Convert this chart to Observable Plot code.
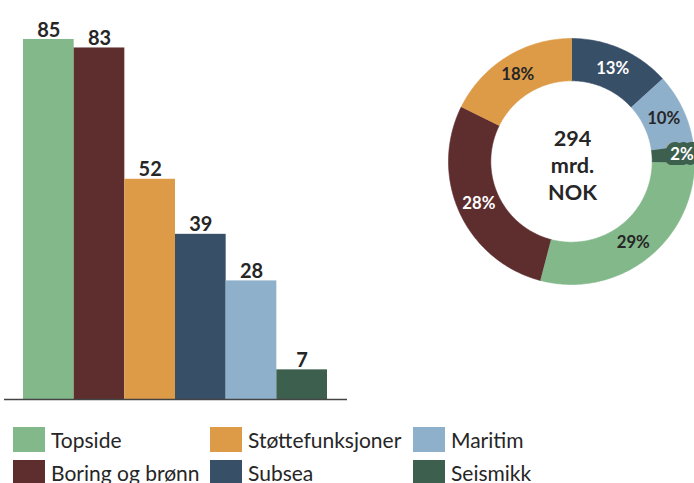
<!DOCTYPE html>
<html><head><meta charset="utf-8">
<script src="https://cdn.jsdelivr.net/npm/d3@7"></script>
<script src="https://cdn.jsdelivr.net/npm/@observablehq/plot@0.6"></script>
<style>
html,body{margin:0;padding:0;background:#fff;}
#chart{position:relative;width:694px;height:483px;overflow:hidden;font-family:Lato,sans-serif;}
#bars{position:absolute;left:0;top:0;}
#donut{position:absolute;left:448px;top:38px;}
#legend{position:absolute;left:13px;top:427px;display:grid;grid-template-columns:197px 203px auto;grid-auto-flow:column;grid-template-rows:25px 25px;row-gap:7.5px;}
.item{display:flex;align-items:center;font-size:21px;color:#262626;white-space:nowrap;}
.sw{width:32px;height:25px;margin-right:6px;flex:none;}
</style></head><body>
<div id="chart"><div id="bars"></div><div id="donut"></div><div id="legend"></div></div>
<script>
const categories = ["Topside","Boring og brønn","Støttefunksjoner","Subsea","Maritim","Seismikk"];
const values = [85,83,52,39,28,7];
const colors = ["#82b88a","#5e2d2e","#dd9b48","#384f68","#8fb0cb","#3d604e"];
const donutOrder = ["Subsea","Maritim","Seismikk","Topside","Boring og brønn","Støttefunksjoner"];
const unitLabel = ["mrd.","NOK"];

const bars = categories.map((c,i)=>({category:c,value:values[i]}));
const colorOf = c => colors[categories.indexOf(c)];

const barPlot = Plot.plot({
  width:694, height:420,
  marginLeft:4, marginRight:347, marginTop:39, marginBottom:21,
  style:{fontFamily:"Lato, sans-serif", background:"transparent"},
  x:{domain:categories, range:[23,327], padding:0, round:false, axis:null},
  y:{domain:[0,85], axis:null},
  color:{domain:categories, range:colors},
  marks:[
    Plot.barY(bars,{x:"category",y:"value",fill:"category"}),
    Plot.ruleY([0],{stroke:"#444",strokeWidth:1.5}),
    Plot.text(bars,{x:"category",y:"value",text:d=>String(d.value),lineAnchor:"bottom",dy:-3,fontSize:20,fontWeight:700,fill:"#262626"})
  ]
});
document.getElementById("bars").append(barPlot);

// Donut
const total = d3.sum(values);
const R = 1, r0 = 0.656;
let acc = 0;
const slices = donutOrder.map(c => {
  const v = values[categories.indexOf(c)];
  const a0 = acc/total*2*Math.PI; acc += v; const a1 = acc/total*2*Math.PI;
  return {category:c, value:v, a0, a1, pct: Math.round(v/total*100)+"%"};
});
const ringPts = slices.flatMap(s => {
  const n = Math.max(2, Math.ceil((s.a1-s.a0)/(Math.PI/180)));
  const angles = d3.range(n+1).map(k => s.a0 + (s.a1-s.a0)*k/n);
  const outer = angles.map(a=>({category:s.category,x:R*Math.sin(a),y:R*Math.cos(a)}));
  const inner = angles.slice().reverse().map(a=>({category:s.category,x:r0*Math.sin(a),y:r0*Math.cos(a)}));
  return [...outer, ...inner];
});
const labels = slices.map(s => {
  const m = (s.a0+s.a1)/2;
  const small = s.value/total < 0.05;
  const rr = small ? 0.9 : (R+r0)/2;
  const dark = d3.hsl(colorOf(s.category)).l < 0.4;
  return {category:s.category, x:rr*Math.sin(m), y:rr*Math.cos(m), text:s.pct, small, fill: dark ? "#ffffff" : "#262626"};
});

const donutPlot = Plot.plot({
  width:250, height:250, margin:0,
  style:{fontFamily:"Lato, sans-serif", background:"transparent", overflow:"visible"},
  x:{domain:[-1,1], axis:null},
  y:{domain:[-1,1], axis:null},
  color:{domain:categories, range:colors},
  marks:[
    Plot.line(ringPts,{x:"x",y:"y",z:"category",fill:"category",stroke:"category",strokeWidth:0.6,curve:"linear"}),
    Plot.text(labels.filter(d=>d.small),{x:"x",y:"y",text:"text",stroke:"category",strokeWidth:10,strokeLinejoin:"round",fill:"white",fontSize:17,fontWeight:700}),
    Plot.text(labels.filter(d=>!d.small),{x:"x",y:"y",text:"text",fill:d=>d.fill,fontSize:17,fontWeight:700}),
    Plot.text([{x:0,y:0,text:[String(total),...unitLabel].join("\n")}],{x:"x",y:"y",text:"text",fontSize:22,fontWeight:700,lineHeight:1.25,dy:3,dx:1,fill:"#262626"})
  ]
});
document.getElementById("donut").append(donutPlot);

// Legend
const legend = document.getElementById("legend");
categories.forEach((c,i)=>{
  const item = document.createElement("div"); item.className="item";
  const sw = document.createElement("span"); sw.className="sw"; sw.style.background=colors[i];
  const t = document.createElement("span"); t.textContent=c;
  item.append(sw,t); legend.append(item);
});
</script>
</body></html>
